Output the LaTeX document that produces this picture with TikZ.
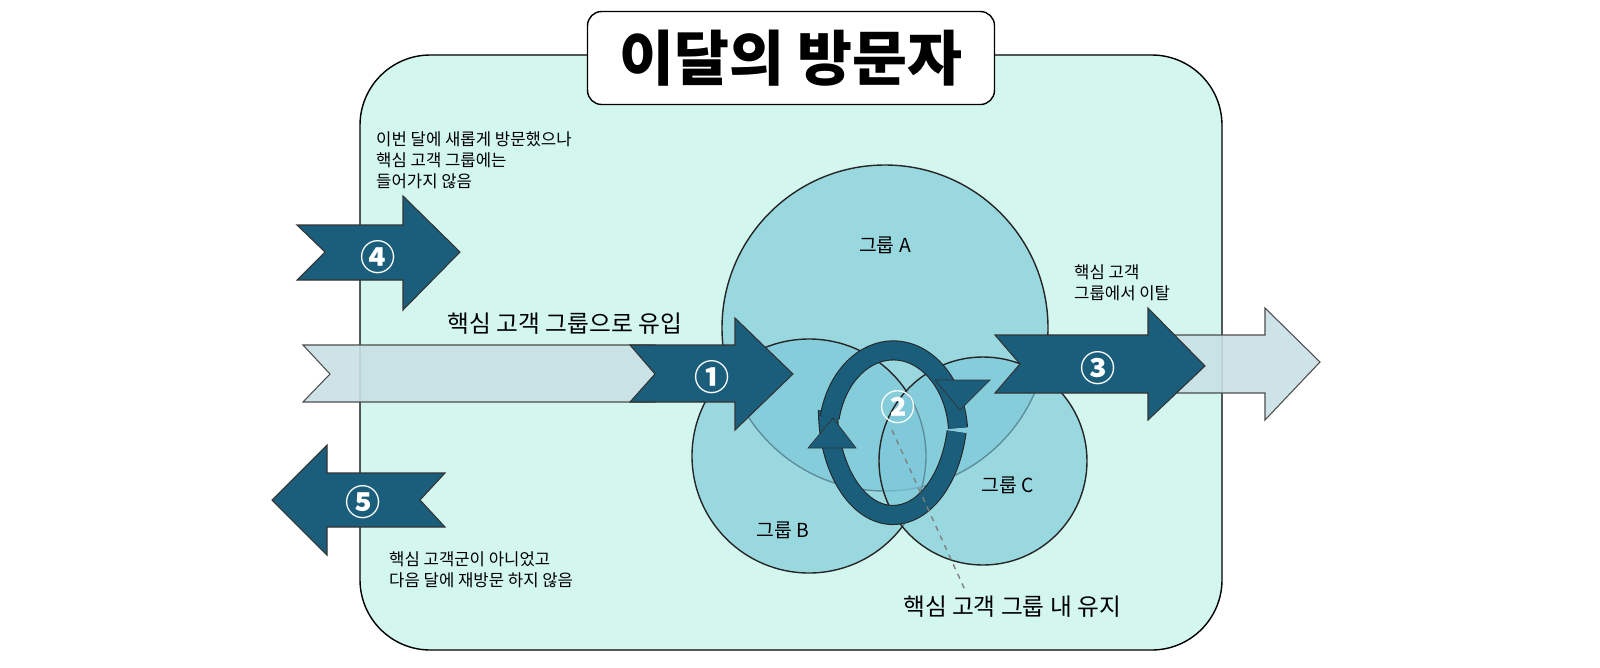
\documentclass[tikz,border=0pt]{standalone}
\usepackage{fontspec}
\setmainfont{Noto Sans CJK KR}
\usetikzlibrary{positioning,arrows.meta}
\definecolor{mint}{HTML}{D3F7EE}
\definecolor{teal}{HTML}{1B5E7B}
\definecolor{pale}{HTML}{C9E0E6}
\definecolor{ring}{HTML}{7CC8DA}
\begin{document}
\begin{tikzpicture}[x=0.02cm,y=-0.02cm,
  darkarrow/.style={fill=teal,draw=black!80,line width=0.6pt},
  palearrow/.style={fill=pale,draw=black!70,line width=0.6pt,fill opacity=0.9},
  group/.style={fill=ring,fill opacity=0.65,draw=black!85,line width=0.8pt},
  ribbon/.style={draw=black!85,double=teal,double distance=0.36cm,line width=0.6pt},
  note/.style={font=\fontsize{9.5}{12}\selectfont,align=left,anchor=north west},
  num/.style={text=white,font=\fontsize{20}{20}\selectfont\bfseries}]

  % background panel and title
  \draw[fill=mint,line width=0.8pt,rounded corners=40pt] (360,55) rectangle (1222,650);
  \node[draw,fill=white,line width=0.8pt,rounded corners=8pt,minimum width=8.14cm,minimum height=1.86cm,
    font=\fontsize{34}{34}\selectfont\bfseries] (title) at (791,58) {이달의 방문자};

  % groups
  \draw[group] (885,328) circle (163);
  \draw[group] (809,456) circle (117);
  \draw[group] (983,461) circle (104);
  \node[font=\fontsize{11}{11}\selectfont] (ga) at (885,245) {그룹 A};
  \node[font=\fontsize{11}{11}\selectfont] (gb) at (783,530) {그룹 B};
  \node[font=\fontsize{11}{11}\selectfont] (gc) at (1008,485) {그룹 C};

  % inflow arrow 1
  \draw[palearrow] (303,345) -- (655,345) -- (680,374) -- (655,402) -- (303,402) -- (330,374) -- cycle;
  \draw[darkarrow] (630,345) -- (735,345) -- (735,318) -- (793,374) -- (735,430) -- (735,402) -- (630,402) -- (655,374) -- cycle;
  \node[num] (n1) at (712,377) {①};
  \node[font=\fontsize{13.5}{13.5}\selectfont] (inflow) at (565,324) {핵심 고객 그룹으로 유입};

  % outflow arrow 3
  \draw[palearrow] (1170,335) -- (1265,335) -- (1265,308) -- (1320,362) -- (1265,420) -- (1265,393) -- (1170,393) -- (1195,364) -- cycle;
  \draw[darkarrow] (995,335) -- (1148,335) -- (1148,308) -- (1205,366) -- (1148,420) -- (1148,393) -- (995,393) -- (1020,364) -- cycle;
  \node[num] (n3) at (1098,368) {③};
  \node[note] (outnote) at (1068,258) {핵심 고객\\그룹에서 이탈};

  % arrow 4
  \draw[darkarrow] (297,225) -- (403,225) -- (403,196) -- (460,252) -- (403,310) -- (403,280) -- (297,280) -- (325,252) -- cycle;
  \node[num] (n4) at (378,257) {④};
  \node[note] (newnote) at (370,125) {이번 달에 새롭게 방문했으나\\핵심 고객 그룹에는\\들어가지 않음};

  % arrow 5
  \draw[darkarrow] (272,500) -- (327,445) -- (327,473) -- (445,473) -- (420,500) -- (445,527) -- (327,527) -- (327,555) -- cycle;
  \node[num] (n5) at (363,502) {⑤};
  \node[note] (lostnote) at (383,545) {핵심 고객군이 아니었고\\다음 달에 재방문 하지 않음};

  % retention cycle
  \draw[ribbon] (828,410) arc[start angle=180,end angle=12,x radius=65,y radius=105];
  \draw[ribbon] (958,428) arc[start angle=-5,end angle=-168,x radius=65,y radius=85];
  \fill[teal,draw=black!80] (935,380) -- (990,380) -- (960,410) -- cycle;
  \fill[teal,draw=black!80] (808,448) -- (856,448) -- (833,418) -- cycle;
  \node[num] (n2) at (898,407) {②};
  \coordinate (tail) at (965,590);
  \draw[gray,dashed,line width=0.8pt] (892,430) -- (tail);
  \node[font=\fontsize{13.5}{13.5}\selectfont] (keep) at (1012,607) {핵심 고객 그룹 내 유지};

  \pgfresetboundingbox
  \useasboundingbox (0,0) rectangle (1600,667);
\end{tikzpicture}
\end{document}
